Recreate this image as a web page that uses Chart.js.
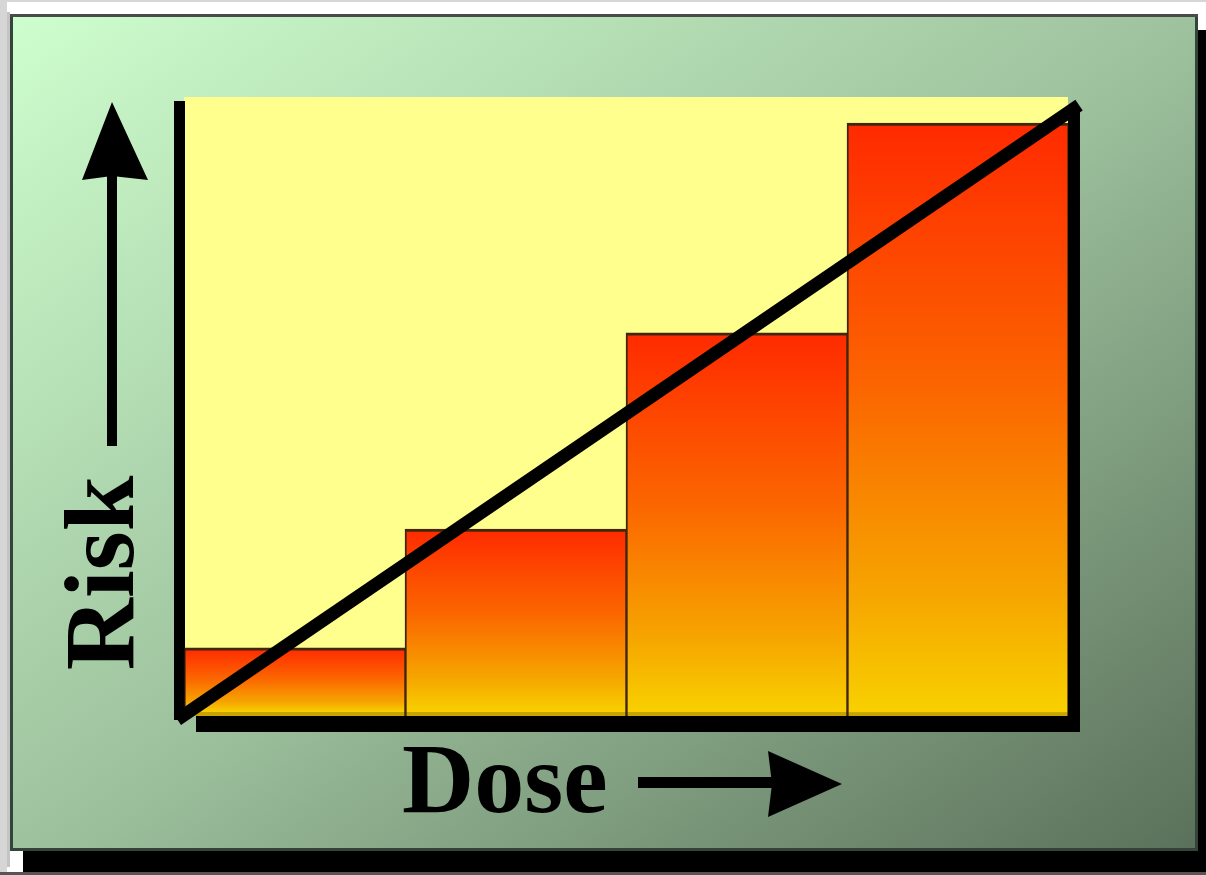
<!DOCTYPE html>
<html>
<head>
<meta charset="utf-8">
<script src="https://cdn.jsdelivr.net/npm/chart.js@4/dist/chart.umd.min.js"></script>
<style>
  html, body { margin: 0; padding: 0; background: #ffffff; }
  #wrap { width: 1206px; height: 875px; }
</style>
</head>
<body>
<div id="wrap"><canvas id="c" width="1206" height="875"></canvas></div>
<script>
// ---- data ----
const doseLevels = ['1', '2', '3', '4'];
const riskValues = [11.0, 30.2, 61.9, 95.8];
const trendX = [-0.03, 4.05];
const trendY = [-0.6, 98.7];
const yAxisTitle = 'Risk';
const xAxisTitle = 'Dose';

const trendPoints = trendX.map((x, i) => ({ x: x, y: trendY[i] }));

function barGradient(context) {
  const chart = context.chart;
  const { ctx, chartArea, scales } = chart;
  if (!chartArea) return '#ff6000';
  const v = context.raw;
  const top = scales.y.getPixelForValue(v);
  const bot = scales.y.getPixelForValue(0);
  const h = Math.max(bot - top, 1);
  const edge = Math.max(0, 1 - 4 / h);
  const g = ctx.createLinearGradient(0, top, 0, bot);
  g.addColorStop(0, '#ff2a00');
  g.addColorStop(0.45, '#fb6600');
  g.addColorStop(0.8, '#f6a600');
  g.addColorStop(edge, '#f8d000');
  g.addColorStop(Math.min(1, edge + 0.001), '#c9a400');
  g.addColorStop(1, '#c9a400');
  return g;
}

const framePlugin = {
  id: 'frame',
  beforeDraw(chart) {
    const ctx = chart.ctx;
    const a = chart.chartArea;
    ctx.save();
    // page
    ctx.fillStyle = '#ffffff';
    ctx.fillRect(0, 0, 1206, 875);
    ctx.fillStyle = '#d6d6d6';
    ctx.fillRect(0, 0, 1206, 2);
    ctx.fillRect(0, 0, 7, 875);
    ctx.fillStyle = '#c4c4c4';
    ctx.fillRect(7, 12, 3, 855);
    // panel shadow
    ctx.fillStyle = '#000000';
    ctx.fillRect(23, 30, 1200, 842);
    ctx.fillStyle = '#555555';
    ctx.fillRect(0, 872, 1206, 3);
    // panel gradient (to bottom right)
    const px = 10, py = 14, pw = 1188, ph = 837;
    const cx = px + pw / 2, cy = py + ph / 2;
    const d = Math.sqrt(pw * pw + ph * ph);
    const L = pw * ph / d;
    const ux = ph / d, uy = pw / d;
    const g = ctx.createLinearGradient(cx - ux * L, cy - uy * L, cx + ux * L, cy + uy * L);
    g.addColorStop(0, '#cefece');
    g.addColorStop(0.5, '#9ec29e');
    g.addColorStop(1, '#5a705a');
    ctx.fillStyle = g;
    ctx.fillRect(px, py, pw, ph);
    ctx.lineWidth = 3;
    ctx.strokeStyle = '#34443a';
    ctx.strokeRect(px + 1.5, py + 1.5, pw - 3, ph - 3);
    ctx.fillStyle = '#4a4a4a';
    ctx.fillRect(px, py, pw, 3);
    // plot area shadow
    ctx.fillStyle = '#000000';
    ctx.fillRect(a.left + 12, a.top + 15, a.right - a.left, a.bottom - a.top + 1);
    // plot area
    ctx.fillStyle = '#ffff8e';
    ctx.fillRect(a.left, a.top, a.right - a.left, a.bottom - a.top);
    // left axis bar
    ctx.fillStyle = '#000000';
    ctx.fillRect(a.left - 10, a.top + 4, 11, a.bottom - a.top);
    ctx.restore();
  },
  afterDraw(chart) {
    const ctx = chart.ctx;
    ctx.save();
    ctx.fillStyle = '#000000';
    // up arrow
    ctx.fillRect(107, 176, 10, 270);
    ctx.beginPath();
    ctx.moveTo(112, 102);
    ctx.lineTo(148, 180);
    ctx.lineTo(112, 176);
    ctx.lineTo(82, 180);
    ctx.closePath();
    ctx.fill();
    // right arrow
    ctx.fillRect(638, 777, 134, 11);
    ctx.beginPath();
    ctx.moveTo(842, 784);
    ctx.lineTo(768, 817);
    ctx.lineTo(772, 784);
    ctx.lineTo(768, 751);
    ctx.closePath();
    ctx.fill();
    // titles
    ctx.font = 'bold 100px "Liberation Serif", "Times New Roman", serif';
    ctx.textBaseline = 'alphabetic';
    ctx.textAlign = 'left';
    ctx.fillText(xAxisTitle, 402, 812);
    ctx.translate(133, 573);
    ctx.rotate(-Math.PI / 2);
    ctx.textAlign = 'center';
    ctx.fillText(yAxisTitle, 0, 0);
    ctx.restore();
  }
};

new Chart(document.getElementById('c'), {
  type: 'bar',
  data: {
    labels: doseLevels,
    datasets: [
      {
        type: 'bar',
        data: riskValues,
        xAxisID: 'x',
        yAxisID: 'y',
        backgroundColor: barGradient,
        borderColor: 'rgba(45,15,0,0.9)',
        borderWidth: { top: 3, left: 2, right: 1, bottom: 0 },
        borderSkipped: false,
        barPercentage: 1,
        categoryPercentage: 1,
        grouped: false,
        order: 2
      },
      {
        type: 'line',
        data: trendPoints,
        xAxisID: 'xl',
        yAxisID: 'y',
        borderColor: '#000000',
        borderWidth: 13,
        borderCapStyle: 'butt',
        pointRadius: 0,
        tension: 0,
        clip: false,
        order: 1
      }
    ]
  },
  options: {
    responsive: false,
    animation: false,
    devicePixelRatio: 1,
    layout: { padding: { left: 184, top: 97, right: 138, bottom: 159 } },
    plugins: { legend: { display: false }, tooltip: { enabled: false } },
    scales: {
      x: { type: 'category', display: false, offset: true },
      xl: { type: 'linear', display: false, min: 0, max: 4, offset: false, grid: { offset: false } },
      y: { type: 'linear', display: false, min: 0, max: 100 }
    }
  },
  plugins: [framePlugin]
});
</script>
</body>
</html>
